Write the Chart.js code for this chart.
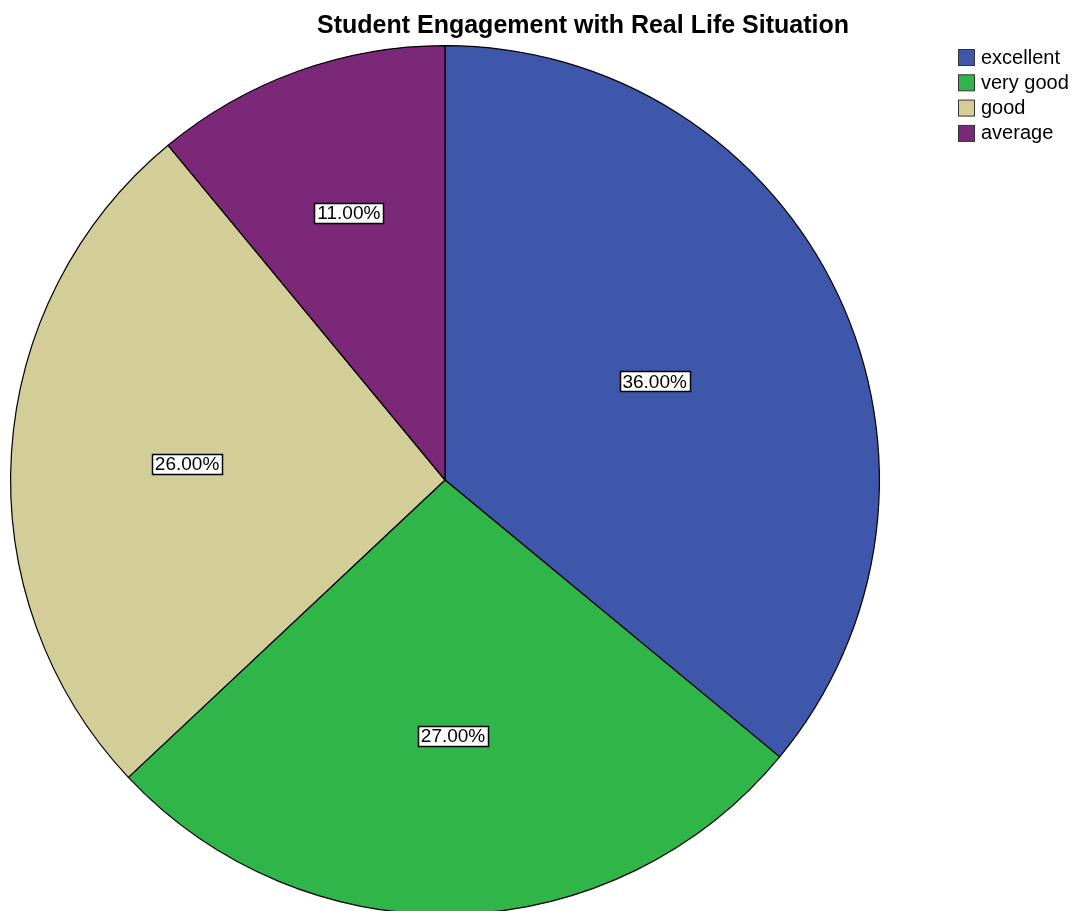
<!DOCTYPE html>
<html>
<head>
<meta charset="utf-8">
<script src="https://cdn.jsdelivr.net/npm/chart.js@4"></script>
<style>
    html, body { margin: 0; padding: 0; background: #fff; overflow: hidden; }
    #wrap { position: relative; width: 1079px; height: 920px; }
</style>
</head>
<body>
<div id="wrap"><canvas id="chart"></canvas></div>
<script>
const chartTitle = 'Student Engagement with Real Life Situation'
const categories = ['excellent', 'very good', 'good', 'average']
const percents   = [36, 27, 26, 11]
const colors     = ['#3e57ab', '#2fb548', '#d3cd98', '#7b2879']

// title, legend and the boxed percent labels, drawn like the SPSS output
const spssPlugin = {
    id: 'spss',
    afterDraw(chart) {
        const ctx  = chart.ctx
        const meta = chart.getDatasetMeta(0)

        ctx.save()
        ctx.textBaseline = 'middle'

        // percent labels at each slice's centroid
        ctx.font = '19px "Liberation Sans", Arial, sans-serif'
        meta.data.forEach((arc, i) => {
            const {x, y, startAngle, endAngle, outerRadius} = arc.getProps(['x', 'y', 'startAngle', 'endAngle', 'outerRadius'])
            const half = (endAngle - startAngle) / 2
            const mid  = startAngle + half
            const d    = 2 * outerRadius * Math.sin(half) / (3 * half)
            const cx   = x + Math.cos(mid) * d
            const cy   = y + Math.sin(mid) * d
            const text = percents[i].toFixed(2) + '%'
            const w    = Math.round(ctx.measureText(text).width + 6)
            const left = Math.round(cx - w / 2) + 0.5
            const top  = Math.round(cy - 10) + 0.5
            ctx.fillStyle = '#fff'
            ctx.fillRect(left, top, w, 20)
            ctx.strokeStyle = '#000'
            ctx.lineWidth = 1.5
            ctx.strokeRect(left, top, w, 20)
            ctx.fillStyle = '#000'
            ctx.textAlign = 'center'
            ctx.fillText(text, cx, cy + 1)
        })

        // title
        ctx.font = 'bold 25px "Liberation Sans", Arial, sans-serif'
        ctx.fillStyle = '#000'
        ctx.textAlign = 'center'
        ctx.fillText(chartTitle, 583, 26)

        // legend
        ctx.font = '20px "Liberation Sans", Arial, sans-serif'
        ctx.textAlign = 'left'
        ctx.lineWidth = 1
        categories.forEach((name, i) => {
            const top = 49 + i * 25.3
            ctx.fillStyle = colors[i]
            ctx.fillRect(958.5, top + 0.5, 16, 16)
            ctx.strokeStyle = '#333'
            ctx.strokeRect(958.5, top + 0.5, 16, 16)
            ctx.fillStyle = '#000'
            ctx.fillText(name, 981, top + 9)
        })
        ctx.restore()
    }
}

const chartCanvas = document.getElementById('chart')

new Chart(chartCanvas, {
    type   : 'pie',
    data   : {
        labels  : categories,
        datasets: [{
            data           : percents,
            backgroundColor: colors,
            borderColor    : '#000',
            borderWidth    : 1.2,
            borderAlign    : 'center'
        }]
    },
    options: {
        responsive         : true,
        maintainAspectRatio: false,
        animation          : false,
        layout             : {
            padding: {left: 10, top: 45, right: 199, bottom: 5}
        },
        plugins: {
            legend : {display: false},
            title  : {display: false},
            tooltip: {enabled: false}
        }
    },
    plugins: [spssPlugin]
})
</script>
</body>
</html>
